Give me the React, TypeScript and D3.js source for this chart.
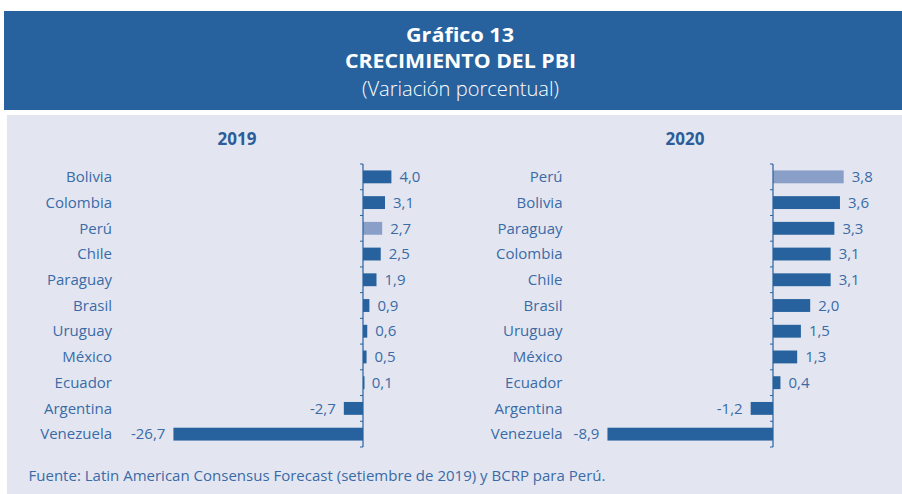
import React from "react";
import * as d3 from "d3";

// PBI growth, % change
const countries2019 = ["Bolivia", "Colombia", "Perú", "Chile", "Paraguay", "Brasil", "Uruguay", "México", "Ecuador", "Argentina", "Venezuela"];
const values2019 = [4.0, 3.1, 2.7, 2.5, 1.9, 0.9, 0.6, 0.5, 0.1, -2.7, -26.7];

const countries2020 = ["Perú", "Bolivia", "Paraguay", "Colombia", "Chile", "Brasil", "Uruguay", "México", "Ecuador", "Argentina", "Venezuela"];
const values2020 = [3.8, 3.6, 3.3, 3.1, 3.1, 2.0, 1.5, 1.3, 0.4, -1.2, -8.9];

const titleLines = ["Gráfico 13", "CRECIMIENTO DEL PBI", "(Variación porcentual)"];
const source = "Fuente: Latin American Consensus Forecast (setiembre de 2019) y BCRP para Perú.";

const W = 902;
const H = 494;
const FONT = "'Open Sans', 'Noto Sans', sans-serif";
const DARK = "#27629e";
const LIGHT = "#8a9fc8";
const TEXT = "#3a6ba6";
const PANEL = "#e3e6f1";

const fmt = (v: number) => d3.format(".1f")(v).replace(".", ",").replace("\u2212", "-");

type PanelProps = {
    year: string;
    names: string[];
    values: number[];
    domain: [number, number];
    range: [number, number];
    labelX: number;
    titleX: number;
};

const Panel = ({ year, names, values, domain, range, labelX, titleX }: PanelProps) => {
    const x = d3.scaleLinear().domain(domain).range(range);
    const y = d3.scaleBand<string>().domain(names).range([164, 447]).paddingInner(0.5).paddingOuter(0.25);
    const x0 = x(0);
    const ticks = d3.range(names.length + 1).map(i => 164 + i * (283 / names.length));

    return (
        <g>
            <text x={titleX} y={145} textAnchor="middle" fontWeight="bold" fontSize={17} fill="#2a5d9a">{year}</text>
            {names.map((n, i) => {
                const v = values[i];
                const by = y(n) as number;
                const cy = by + y.bandwidth() / 2;
                return (
                    <g key={n}>
                        <text x={labelX} y={cy} dy="0.35em" textAnchor="end" fontSize={15} fill={TEXT}>{n}</text>
                        <rect
                            x={Math.min(x0, x(v))}
                            y={by}
                            width={Math.max(Math.abs(x(v) - x0), 1.5)}
                            height={y.bandwidth()}
                            fill={n === "Perú" ? LIGHT : DARK}
                        />
                        <text
                            x={v >= 0 ? x(v) + 8 : x(v) - 8}
                            y={cy}
                            dy="0.35em"
                            textAnchor={v >= 0 ? "start" : "end"}
                            fontSize={15}
                            fill={TEXT}
                        >{fmt(v)}</text>
                    </g>
                );
            })}
            <line x1={x0} x2={x0} y1={164} y2={447} stroke={DARK} strokeWidth={1.2} />
            {ticks.map((t, i) => (
                <line key={i} x1={x0 - 3} x2={x0} y1={t} y2={t} stroke={DARK} strokeWidth={1} />
            ))}
        </g>
    );
};

export default function App() {
    return (
        <svg width={W} height={H} style={{ position: "absolute", left: 0, top: 0 }} fontFamily={FONT}>
            <rect x={0} y={0} width={W} height={H} fill="#fff" />
            <rect x={4} y={11} width={W - 4} height={99} fill={DARK} />
            <text x={460} y={42} textAnchor="middle" fill="#fff" fontWeight="bold" fontSize={20}
                textLength={108} lengthAdjust="spacingAndGlyphs">{titleLines[0]}</text>
            <text x={460.5} y={67.5} textAnchor="middle" fill="#fff" fontWeight="bold" fontSize={20}
                textLength={231} lengthAdjust="spacingAndGlyphs">{titleLines[1]}</text>
            <text x={460.5} y={95.5} textAnchor="middle" fill="#fff" fontWeight={300} fontSize={20}
                textLength={197} lengthAdjust="spacingAndGlyphs">{titleLines[2]}</text>

            <rect x={7} y={115} width={W - 7} height={H - 115} fill={PANEL} />

            <Panel year="2019" names={countries2019} values={values2019}
                domain={[-30, 5]} range={[363 - 30 * 7.1, 363 + 5 * 7.1]} labelX={112} titleX={237} />
            <Panel year="2020" names={countries2020} values={values2020}
                domain={[-10, 5]} range={[773 - 10 * 18.6, 773 + 5 * 18.6]} labelX={562.5} titleX={685} />

            <text x={28.5} y={481} fontSize={14.6} fill={TEXT}
                textLength={577} lengthAdjust="spacingAndGlyphs">{source}</text>
        </svg>
    );
}
